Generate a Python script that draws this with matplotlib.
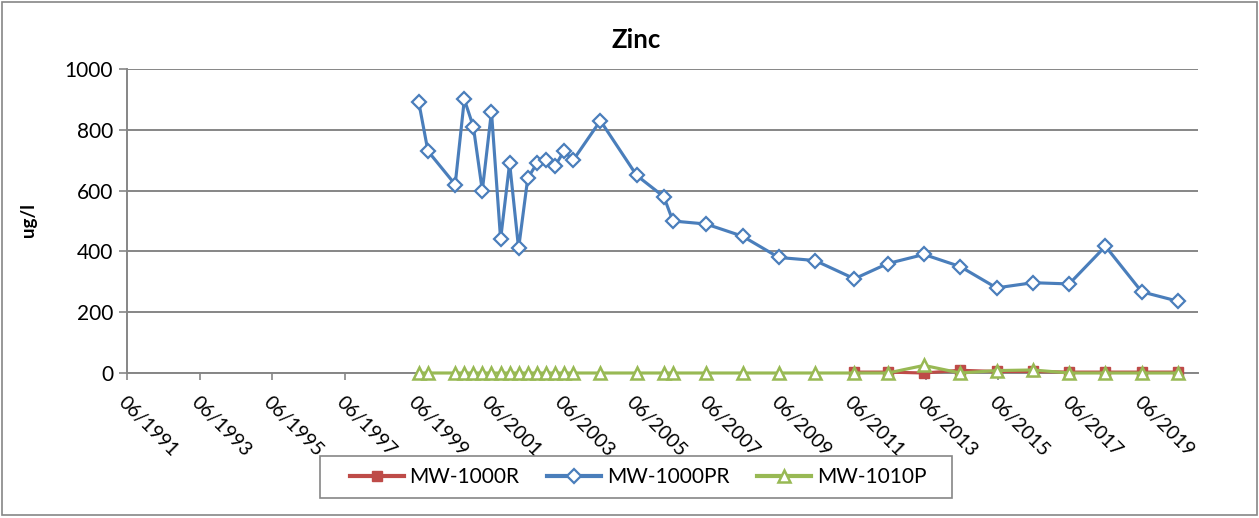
import datetime as dt
import matplotlib
matplotlib.use("Agg")
import matplotlib.pyplot as plt
import matplotlib.dates as mdates
from matplotlib.patches import Rectangle

plt.rcParams['font.family'] = ['Lato', 'DejaVu Sans']

# Sampling dates (year, month) for the MW-1000PR / MW-1010P wells
sample_dates = [
    (1999, 6), (1999, 9), (2000, 6), (2000, 9), (2000, 12), (2001, 3),
    (2001, 6), (2001, 9), (2001, 12), (2002, 3), (2002, 6), (2002, 9),
    (2002, 12), (2003, 3), (2003, 6), (2003, 9), (2004, 6), (2005, 6),
    (2006, 3), (2006, 6), (2007, 5), (2008, 5), (2009, 5), (2010, 5),
    (2011, 6), (2012, 5), (2013, 5), (2014, 5), (2015, 5), (2016, 5),
    (2017, 5), (2018, 5), (2019, 5), (2020, 5),
]

mw_1000pr = [
    890, 730, 620, 900, 810, 600, 860, 440, 690, 410, 640, 690,
    700, 680, 730, 700, 830, 650, 580, 500, 490, 450, 380, 370,
    310, 360, 390, 350, 280, 297, 293, 417, 267, 236,
]

mw_1010p = [
    0, 0, 0, 0, 0, 0, 0, 0, 0, 0, 0, 0,
    0, 0, 0, 0, 0, 0, 0, 0, 0, 0, 0, 0,
    0, 0, 25, 0, 8, 10, 0, 0, 0, 0,
]

# MW-1000R was only sampled from 2011 onward
r_dates = [
    (2011, 6), (2012, 5), (2013, 5), (2014, 5), (2015, 5), (2016, 5),
    (2017, 5), (2018, 5), (2019, 5), (2020, 5),
]
mw_1000r = [3, 3, 0, 9, 5, 5, 3, 3, 3, 3]

tick_years = list(range(1991, 2020, 2))
y_ticks = [0, 200, 400, 600, 800, 1000]

to_date = lambda ym: dt.date(ym[0], ym[1], 15)
x_main = [to_date(d) for d in sample_dates]
x_r = [to_date(d) for d in r_dates]

RED = '#BE4B48'
BLUE = '#4A7EBB'
GREEN = '#98B954'
GRID = '#868686'

W, H = 1259, 518
fig = plt.figure(figsize=(W / 100, H / 100), dpi=100)
ax = fig.add_axes([127 / W, 1 - 373 / H, (1198 - 127) / W, (373 - 69) / H])

ax.plot(x_r, mw_1000r, color=RED, lw=2.25, marker='s', ms=6.5,
        mfc=RED, mec=RED, label='MW-1000R', zorder=3, clip_on=False)
ax.plot(x_main, mw_1000pr, color=BLUE, lw=2.25, marker='D', ms=7,
        mfc='white', mec=BLUE, mew=1.6, label='MW-1000PR', zorder=4,
        clip_on=False)
ax.plot(x_main, mw_1010p, color=GREEN, lw=2.25, marker='^', ms=8.5,
        mfc='white', mec=GREEN, mew=1.8, label='MW-1010P', zorder=5,
        clip_on=False)

ax.set_xlim(dt.date(1991, 6, 1), dt.date(2020, 12, 1))
ax.set_ylim(0, 1000)

ax.set_xticks([dt.date(y, 6, 1) for y in tick_years])
ax.xaxis.set_major_formatter(mdates.DateFormatter('%m/%Y'))
ax.set_yticks(y_ticks)

for lbl in ax.get_xticklabels():
    lbl.set_rotation(-45)
    lbl.set_ha('left')
    lbl.set_va('top')
    lbl.set_rotation_mode('anchor')

ax.tick_params(axis='x', labelsize=14, length=5, width=1.2, color=GRID,
               direction='out', pad=10)
ax.tick_params(axis='y', labelsize=15, length=6, width=1.2, color=GRID,
               direction='out', pad=4)

ax.grid(axis='y', color=GRID, lw=1.4)
ax.set_axisbelow(True)
for side in ('top', 'right'):
    ax.spines[side].set_visible(False)
for side in ('left', 'bottom'):
    ax.spines[side].set_color(GRID)
    ax.spines[side].set_linewidth(1.4)

fig.text(28 / W, 1 - 220 / H, 'ug/l', rotation=90, ha='center', va='center',
         fontsize=13.5, fontweight='bold')
fig.text(636 / W, 1 - 48 / H, 'Zinc', ha='center', va='baseline',
         fontsize=18.5, fontweight='bold')

leg = fig.legend(loc='center', bbox_to_anchor=(638 / W, 1 - 477 / H),
                 ncol=3, fontsize=15, frameon=False, handlelength=2.6,
                 handletextpad=0.25, columnspacing=1.35, borderpad=0.2)
for line in leg.get_lines():
    line.set_linewidth(3)

# Legend box
fig.patches.append(Rectangle((320 / W, 1 - 498 / H), (952 - 320) / W,
                             (498 - 456) / H, transform=fig.transFigure,
                             fill=False, edgecolor=GRID, lw=1.2))
# Outer chart border
fig.patches.append(Rectangle((2 / W, 3 / H), (W - 4) / W, (H - 5) / H,
                             transform=fig.transFigure, fill=False,
                             edgecolor=GRID, lw=1.2))

fig.savefig('out.png', dpi=100)
